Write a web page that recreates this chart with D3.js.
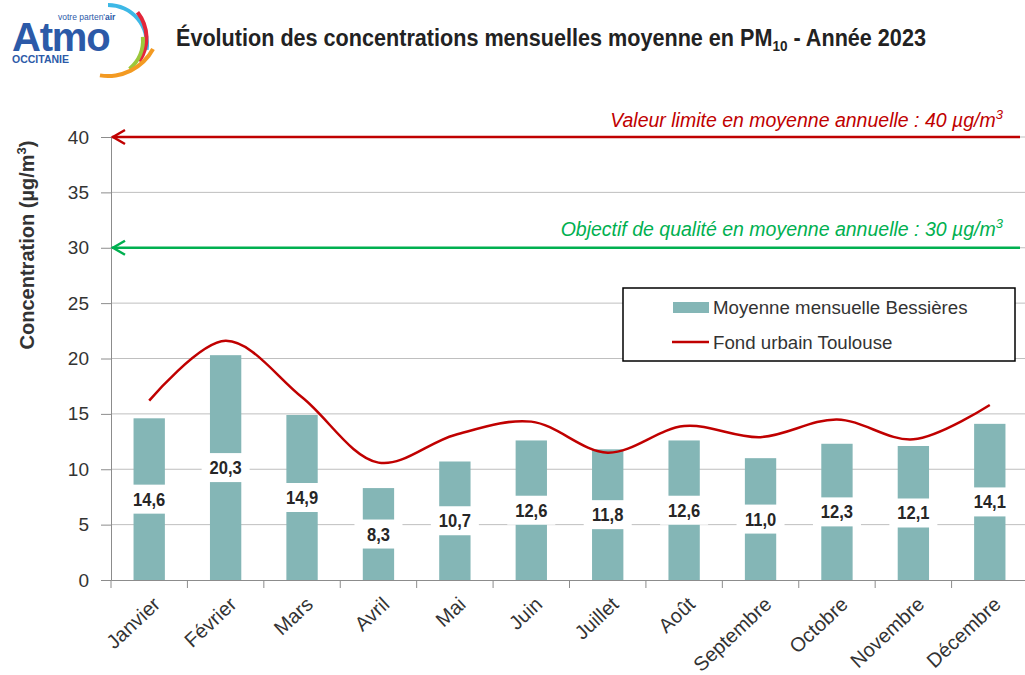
<!DOCTYPE html>
<html>
<head>
<meta charset="utf-8">
<script src="https://cdn.jsdelivr.net/npm/d3@7"></script>
<style>
  body { margin: 0; background: #fff; }
  svg { font-family: "Liberation Sans", Arial, sans-serif; }
</style>
</head>
<body>
<svg id="chart" width="1025" height="675"></svg>
<script>
// data
const months = ['Janvier', 'Février', 'Mars', 'Avril', 'Mai', 'Juin', 'Juillet', 'Août', 'Septembre', 'Octobre', 'Novembre', 'Décembre'];
const bessieres = [14.6, 20.3, 14.9, 8.3, 10.7, 12.6, 11.8, 12.6, 11.0, 12.3, 12.1, 14.1];
const toulouse = [16.2, 21.6, 16.5, 10.6, 13.1, 14.3, 11.5, 13.9, 12.9, 14.5, 12.7, 15.8];
const yTicks = [0, 5, 10, 15, 20, 25, 30, 35, 40];
const limitValue = 40;
const objectiveValue = 30;

const svg = d3.select('#chart');
const margin = { left: 111, right: 1028, top: 137, bottom: 580 };

const x = d3.scaleBand().domain(months).range([margin.left, margin.right]);
const y = d3.scaleLinear().domain([0, 40]).range([margin.bottom, margin.top]);

// logo
const logo = svg.append('g');
const arc = d3.arc();
const logoArcs = [
  { cx: 108, cy: 44, r: 39, a0: 0.0, a1: 1.72, c: '#3db8e6' },
  { cx: 105, cy: 38, r: 41.5, a0: 0.9, a1: 2.17, c: '#e3263a' },
  { cx: 105, cy: 40, r: 38, a0: 1.49, a1: 2.44, c: '#9cc83b' },
  { cx: 108, cy: 25, r: 51, a0: 2.06, a1: 3.3, c: '#f39a22' }
];
logoArcs.forEach(a => {
  logo.append('path')
    .attr('transform', `translate(${a.cx},${a.cy})`)
    .attr('d', arc({ innerRadius: a.r - 2, outerRadius: a.r + 2, startAngle: a.a0, endAngle: a.a1, cornerRadius: 2 }))
    .attr('fill', a.c);
});
logo.append('text').attr('x', 12).attr('y', 51)
  .attr('font-size', 40).attr('font-weight', 'bold').attr('fill', '#2c5aa8')
  .attr('letter-spacing', -1.2).text('Atmo');
logo.append('text').attr('x', 58).attr('y', 20)
  .attr('font-size', 8.5).attr('fill', '#2c5aa8')
  .text("votre parten'").append('tspan').attr('font-weight', 'bold').text('air');
logo.append('text').attr('x', 12).attr('y', 63)
  .attr('font-size', 10.5).attr('font-weight', 'bold').attr('fill', '#2c5aa8')
  .text('OCCITANIE');

// title
const title = svg.append('text').attr('transform', 'translate(176,46) scale(0.9,1)')
  .attr('font-size', 24).attr('font-weight', 'bold').attr('fill', '#222');
title.append('tspan').text('Évolution des concentrations mensuelles moyenne en PM');
title.append('tspan').attr('font-size', 15).attr('dy', 5).text('10');
title.append('tspan').attr('dy', -5).text(' - Année 2023');

// gridlines
svg.append('g').selectAll('line').data(yTicks.filter(d => d > 0)).join('line')
  .attr('x1', margin.left).attr('x2', margin.right)
  .attr('y1', d => y(d)).attr('y2', d => y(d))
  .attr('stroke', '#bfbfbf').attr('stroke-width', 1);

// y axis
const yAxis = svg.append('g').attr('transform', `translate(${margin.left},0)`)
  .call(d3.axisLeft(y).tickValues(yTicks).tickSize(10).tickPadding(12));
yAxis.select('.domain').attr('stroke', '#8c8c8c');
yAxis.selectAll('.tick line').attr('stroke', '#8c8c8c');
yAxis.selectAll('.tick text').attr('font-size', 19).attr('fill', '#333')
  .attr('font-family', 'Liberation Sans, Arial, sans-serif');

// x axis
const xAxis = svg.append('g').attr('transform', `translate(0,${margin.bottom})`)
  .call(d3.axisBottom(x).tickSize(0).tickPadding(0));
xAxis.select('.domain').attr('stroke', '#8c8c8c');
xAxis.selectAll('.tick text').remove();
svg.append('g').selectAll('line').data(months.concat(['end'])).join('line')
  .attr('x1', (d, i) => margin.left + i * x.bandwidth())
  .attr('x2', (d, i) => margin.left + i * x.bandwidth())
  .attr('y1', margin.bottom).attr('y2', margin.bottom + 8)
  .attr('stroke', '#8c8c8c');
svg.append('g').selectAll('text').data(months).join('text')
  .attr('transform', d => `translate(${x(d) + x.bandwidth() / 2 + 2},${margin.bottom + 15}) rotate(-43)`)
  .attr('text-anchor', 'end').attr('dy', '0.75em')
  .attr('font-size', 20).attr('fill', '#333')
  .text(d => d);

// y axis title
const yTitle = svg.append('text')
  .attr('transform', 'translate(34,245) rotate(-90)')
  .attr('text-anchor', 'middle')
  .attr('font-size', 20).attr('font-weight', 'bold').attr('fill', '#333');
yTitle.append('tspan').text('Concentration (µg/m');
yTitle.append('tspan').attr('font-size', 13).attr('dy', -8).text('3');
yTitle.append('tspan').attr('dy', 8).text(')');

// bars
const barW = x.bandwidth() * 0.41;
svg.append('g').selectAll('rect').data(bessieres).join('rect')
  .attr('x', (d, i) => x(months[i]) + (x.bandwidth() - barW) / 2)
  .attr('y', d => y(d))
  .attr('width', barW)
  .attr('height', d => y(0) - y(d))
  .attr('fill', '#84b6b6');

// bar labels
const labels = svg.append('g').selectAll('g').data(bessieres).join('g')
  .attr('transform', (d, i) => `translate(${x(months[i]) + x.bandwidth() / 2},${y(d / 2)})`);
labels.append('rect').attr('x', -24).attr('y', -14.5).attr('width', 48).attr('height', 29).attr('fill', '#fff');
labels.append('text').attr('text-anchor', 'middle').attr('dy', '0.36em')
  .attr('transform', 'scale(0.92,1)')
  .attr('font-size', 18).attr('font-weight', 'bold').attr('fill', '#262626')
  .text(d => d3.format('.1f')(d).replace('.', ','));

// Toulouse line
const line = d3.line()
  .x((d, i) => x(months[i]) + x.bandwidth() / 2)
  .y(d => y(d))
  .curve(d3.curveCatmullRom.alpha(0.5));
svg.append('path').datum(toulouse)
  .attr('d', line).attr('fill', 'none')
  .attr('stroke', '#c00000').attr('stroke-width', 2.5);

// threshold arrows
function threshold(value, color, label, labelY) {
  const g = svg.append('g');
  g.append('line').attr('x1', margin.left + 1).attr('x2', margin.right - 8)
    .attr('y1', y(value)).attr('y2', y(value))
    .attr('stroke', color).attr('stroke-width', 2.5);
  g.append('path')
    .attr('d', `M${margin.left + 14},${y(value) - 7} L${margin.left + 2},${y(value)} L${margin.left + 14},${y(value) + 7}`)
    .attr('fill', 'none').attr('stroke', color).attr('stroke-width', 2.5);
  const t = g.append('text').attr('x', 1003).attr('y', labelY)
    .attr('text-anchor', 'end').attr('font-style', 'italic')
    .attr('font-size', 19.5).attr('fill', color);
  t.append('tspan').text(label);
  t.append('tspan').attr('font-size', 13).attr('dy', -8).text('3');
}
threshold(limitValue, '#c00000', 'Valeur limite en moyenne annuelle : 40 µg/m', 127);
threshold(objectiveValue, '#00b050', 'Objectif de qualité en moyenne annuelle : 30 µg/m', 236);

// legend
const legend = svg.append('g');
legend.append('rect').attr('x', 623).attr('y', 288).attr('width', 392).attr('height', 73)
  .attr('fill', '#fff').attr('stroke', '#000').attr('stroke-width', 1.5);
legend.append('rect').attr('x', 673).attr('y', 302).attr('width', 36).attr('height', 11).attr('fill', '#84b6b6');
legend.append('line').attr('x1', 672).attr('x2', 709).attr('y1', 342).attr('y2', 342)
  .attr('stroke', '#c00000').attr('stroke-width', 2.5);
legend.append('text').attr('x', 713).attr('y', 314).attr('font-size', 18.7).attr('fill', '#333')
  .text('Moyenne mensuelle Bessières');
legend.append('text').attr('x', 713).attr('y', 349).attr('font-size', 18.7).attr('fill', '#333')
  .text('Fond urbain Toulouse');
</script>
</body>
</html>
